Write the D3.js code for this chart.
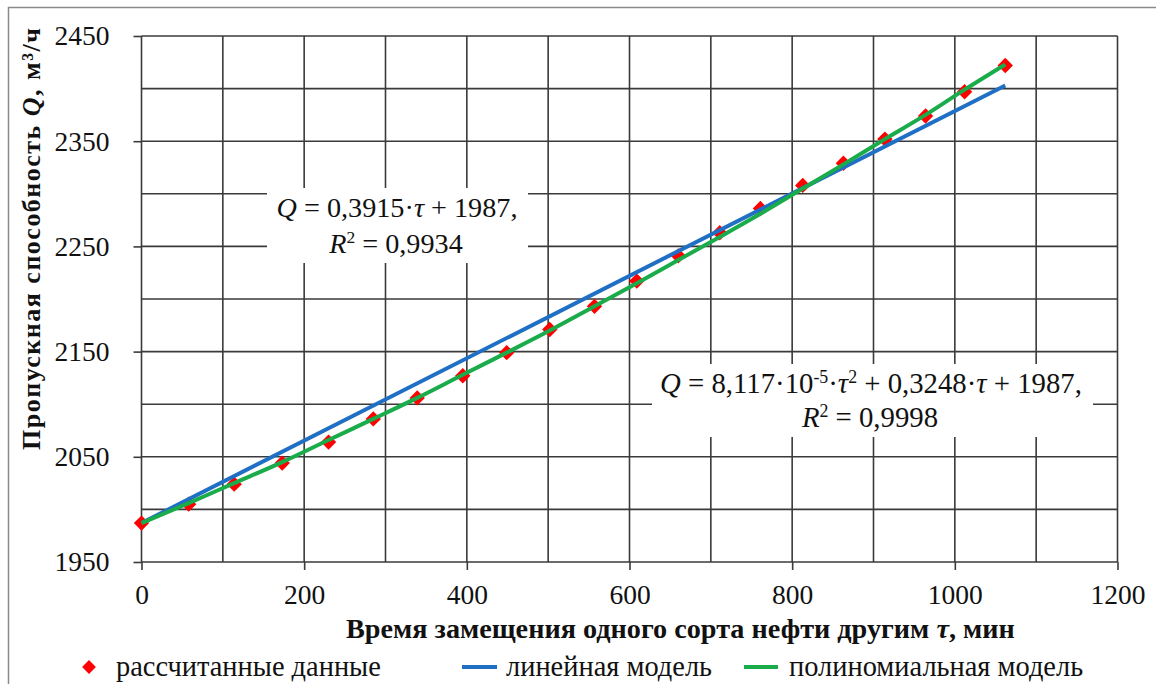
<!DOCTYPE html>
<html>
<head>
<meta charset="utf-8">
<script src="https://cdn.jsdelivr.net/npm/d3@7"></script>
<style>
  body { margin: 0; background: #fff; }
</style>
</head>
<body>
<script>
// calculated points (tau, min -> Q, m3/h)
var tauData = [0, 58, 114, 173, 230, 285, 339, 395, 449, 502, 557, 609, 660, 711, 761, 813, 863, 914, 964, 1012, 1062];
var qData = [1987, 2005, 2024, 2044, 2064, 2086, 2106, 2127, 2149, 2171, 2193, 2217, 2241, 2263, 2286, 2308, 2329, 2352, 2374, 2397, 2422];

// trend lines
var linTau = [0, 1062];
var linQ = [1987, 2403];
var polyQ = [1987, 2006, 2025, 2045, 2066, 2086, 2106, 2128, 2149, 2170, 2193, 2215, 2237, 2259, 2281, 2305, 2328, 2352, 2375, 2399, 2423];

var xTicks = [0, 200, 400, 600, 800, 1000, 1200];
var yTicks = [1950, 2050, 2150, 2250, 2350, 2450];

var legendNames = ['рассчитанные данные', 'линейная модель', 'полиномиальная модель'];

var FONT = 'Liberation Serif';
var W = 1156, H = 684;
var svg = d3.select('body').append('svg').attr('width', W).attr('height', H)
  .attr('font-family', FONT);

// scale a text's font so it spans the wanted width
function fit(sel, target){
  var w = sel.node().getComputedTextLength();
  sel.attr('font-size', +sel.attr('font-size') * target / w);
  return +sel.attr('font-size');
}

// outer frame
svg.append('rect').attr('x', 8.5).attr('y', 7.5).attr('width', 1160).attr('height', 700)
  .attr('fill', 'none').attr('stroke', '#8a8a8a').attr('stroke-width', 1.5);

var x = d3.scaleLinear().domain([0, 1200]).range([141.5, 1117.5]);
var y = d3.scaleLinear().domain([1950, 2450]).range([562, 36]);

var gridColor = '#3a3a3a';
var grid = svg.append('g');
grid.selectAll('.vg').data(d3.range(0, 1201, 100)).enter().append('line')
  .attr('x1', function(d){return x(d)}).attr('x2', function(d){return x(d)})
  .attr('y1', y(2450)).attr('y2', y(1950))
  .attr('stroke', gridColor).attr('stroke-width', 1.6);
grid.selectAll('.hg').data(d3.range(1950, 2451, 50)).enter().append('line')
  .attr('y1', function(d){return y(d)}).attr('y2', function(d){return y(d)})
  .attr('x1', x(0)).attr('x2', x(1200))
  .attr('stroke', gridColor).attr('stroke-width', 1.6);

// axes
var xAxis = d3.axisBottom(x).tickValues(xTicks).tickSize(8).tickPadding(14).tickFormat(d3.format('d'));
var yAxis = d3.axisLeft(y).tickValues(yTicks).tickSize(8).tickPadding(24).tickFormat(d3.format('d'));
var gx = svg.append('g').attr('transform', 'translate(0,' + y(1950) + ')').call(xAxis);
var gy = svg.append('g').attr('transform', 'translate(' + x(0) + ',0)').call(yAxis);
[gx, gy].forEach(function(g){
  g.attr('font-family', FONT).attr('font-size', 27.5);
  g.select('.domain').remove();
  g.selectAll('.tick line').attr('stroke', gridColor).attr('stroke-width', 1.6);
  g.selectAll('.tick text').attr('fill', '#111');
});

// equation boxes (white background hides grid)
svg.append('rect').attr('x', 267).attr('y', 188).attr('width', 261).attr('height', 75).attr('fill', '#fff');
svg.append('rect').attr('x', 652).attr('y', 364).attr('width', 441).attr('height', 73).attr('fill', '#fff');

// series: points, then linear, then polynomial
var pts = tauData.map(function(t, i){ return {t: t, q: qData[i]}; });
svg.append('g').selectAll('path').data(pts).enter().append('path')
  .attr('d', d3.symbol().type(d3.symbolSquare).size(118))
  .attr('transform', function(d){ return 'translate(' + x(d.t) + ',' + y(d.q) + ') rotate(45)'; })
  .attr('fill', '#ff0000');

var line = d3.line().x(function(d){return x(d[0])}).y(function(d){return y(d[1])});
svg.append('path').datum(linTau.map(function(t, i){ return [t, linQ[i]]; }))
  .attr('d', line).attr('fill', 'none').attr('stroke', '#1f6fc4').attr('stroke-width', 4);
svg.append('path').datum(tauData.map(function(t, i){ return [t, polyQ[i]]; }))
  .attr('d', line.curve(d3.curveMonotoneX)).attr('fill', 'none').attr('stroke', '#1aab4b').attr('stroke-width', 4);

// equation labels
function eqLine(cx, by, parts){
  var t = svg.append('text').attr('x', cx).attr('y', by).attr('text-anchor', 'middle')
    .attr('font-size', 25).attr('fill', '#111');
  parts.forEach(function(p){
    var s = t.append('tspan').text(p.s);
    if (p.i) s.attr('font-style', 'italic');
    if (p.sup) s.attr('baseline-shift', 'super').attr('font-size', '0.62em');
  });
  return t;
}
var e1 = eqLine(397, 217, [{s:'Q', i:1}, {s:' = 0,3915·'}, {s:'τ', i:1}, {s:' + 1987,'}]);
var e2 = eqLine(396, 253, [{s:'R', i:1}, {s:'2', sup:1}, {s:' = 0,9934'}]);
var e3 = eqLine(871, 393, [{s:'Q', i:1}, {s:' = 8,117·10'}, {s:'-5', sup:1}, {s:'·'}, {s:'τ', i:1}, {s:'2', sup:1},
  {s:' + 0,3248·'}, {s:'τ', i:1}, {s:' + 1987,'}]);
var e4 = eqLine(870, 427, [{s:'R', i:1}, {s:'2', sup:1}, {s:' = 0,9998'}]);
var fs1 = fit(e1, 241); e2.attr('font-size', fs1);
var fs3 = fit(e3, 422); e4.attr('font-size', fs3);

// axis titles
var xt = svg.append('text').attr('x', 346).attr('y', 638).attr('font-size', 26).attr('font-weight', 'bold')
  .attr('fill', '#111');
xt.append('tspan').text('Время замещения одного сорта нефти другим ');
xt.append('tspan').text('τ').attr('font-style', 'italic');
xt.append('tspan').text(', мин');
fit(xt, 669);

var yt = svg.append('text').attr('transform', 'translate(40,450) rotate(-90)')
  .attr('font-size', 26).attr('font-weight', 'bold').attr('textLength', 422).attr('fill', '#111');
yt.append('tspan').text('Пропускная  способность ');
yt.append('tspan').text('Q').attr('font-style', 'italic');
yt.append('tspan').text(', м³/ч');

// legend
var lg = svg.append('g').attr('fill', '#111');
lg.append('path').attr('d', d3.symbol().type(d3.symbolSquare).size(95))
  .attr('transform', 'translate(89,667) rotate(45)').attr('fill', '#ff0000');
var l1 = lg.append('text').attr('x', 116).attr('y', 676).attr('font-size', 26).text(legendNames[0]);
var lfs = fit(l1, 265);
lg.append('line').attr('x1', 462).attr('x2', 497).attr('y1', 667).attr('y2', 667)
  .attr('stroke', '#1f6fc4').attr('stroke-width', 4);
lg.append('text').attr('x', 506).attr('y', 676).attr('font-size', lfs).text(legendNames[1]);
lg.append('line').attr('x1', 744).attr('x2', 778).attr('y1', 667).attr('y2', 667)
  .attr('stroke', '#1aab4b').attr('stroke-width', 4);
lg.append('text').attr('x', 789).attr('y', 676).attr('font-size', lfs).text(legendNames[2]);
</script>
</body>
</html>
